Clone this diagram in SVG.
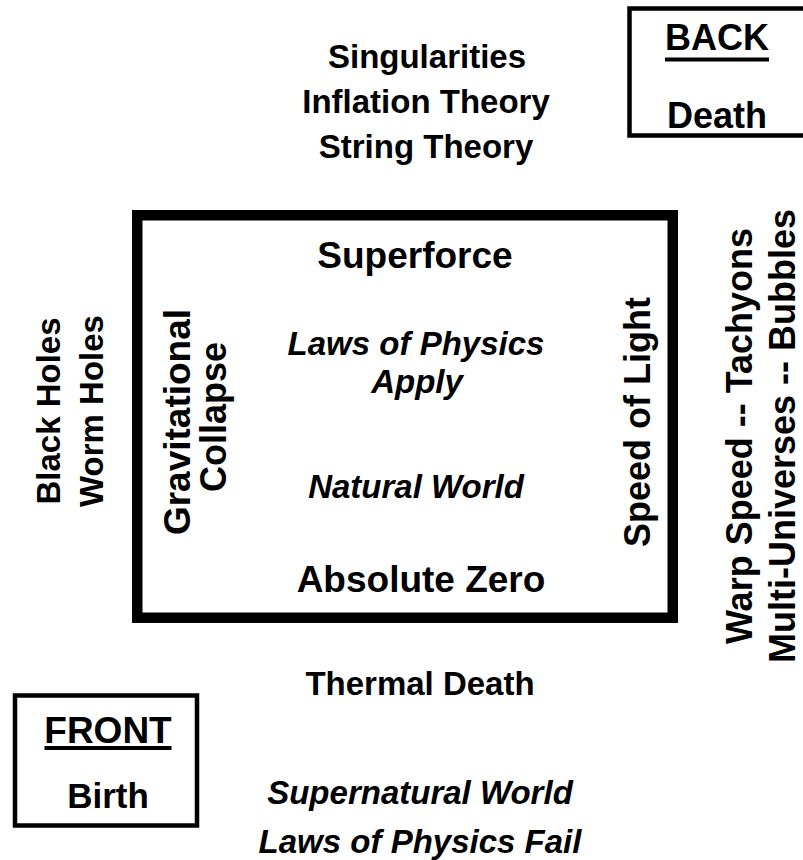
<svg xmlns="http://www.w3.org/2000/svg" width="803" height="860" viewBox="0 0 803 860">
<style>
text{font-family:"Liberation Sans",Arial,Helvetica,sans-serif;font-weight:bold;fill:#000;text-anchor:middle}
.i{font-style:italic}
.box{fill:none;stroke:#000}
</style>
<rect width="803" height="860" fill="#fff"/>
<g id="main-box">
<rect class="box" x="137.25" y="215.25" width="535.5" height="402.5" stroke-width="10.5"/>
<text x="415" y="268" font-size="37">Superforce</text>
<text class="i" x="416" y="355" font-size="33">Laws of Physics</text>
<text class="i" x="417" y="393" font-size="33">Apply</text>
<text class="i" x="416" y="498" font-size="33">Natural World</text>
<text x="421" y="592" font-size="37">Absolute Zero</text>
<text transform="translate(190,422) rotate(-90)" font-size="37">Gravitational</text>
<text transform="translate(226,417) rotate(-90)" font-size="36">Collapse</text>
<text transform="translate(650,422) rotate(-90)" font-size="36">Speed of Light</text>
</g>
<g id="back-box">
<rect class="box" x="629.5" y="8.5" width="200" height="127" stroke-width="4.5"/>
<text x="717" y="50" font-size="36">BACK</text>
<line x1="665" y1="59.5" x2="769" y2="59.5" stroke="#000" stroke-width="4"/>
<text x="717" y="128" font-size="36">Death</text>
</g>
<g id="front-box">
<rect class="box" x="15" y="695.5" width="182" height="130" stroke-width="4.5"/>
<text x="108" y="743" font-size="37">FRONT</text>
<line x1="44.5" y1="748" x2="171.5" y2="748" stroke="#000" stroke-width="4"/>
<text x="108" y="808" font-size="35">Birth</text>
</g>
<g id="top-labels">
<text x="427" y="68" font-size="33">Singularities</text>
<text x="426" y="113" font-size="33">Inflation Theory</text>
<text x="426" y="158" font-size="33">String Theory</text>
</g>
<g id="left-labels">
<text transform="translate(60,411) rotate(-90)" font-size="33">Black Holes</text>
<text transform="translate(103,411) rotate(-90)" font-size="33">Worm Holes</text>
</g>
<g id="right-labels">
<text transform="translate(752,436) rotate(-90)" font-size="36">Warp Speed -- Tachyons</text>
<text transform="translate(795,436) rotate(-90)" font-size="36">Multi-Universes -- Bubbles</text>
</g>
<g id="bottom-labels">
<text x="420" y="695" font-size="33">Thermal Death</text>
<text class="i" x="420" y="804" font-size="33">Supernatural World</text>
<text class="i" x="420" y="853" font-size="33">Laws of Physics Fail</text>
</g>
<g id="connectors"/>
</svg>
